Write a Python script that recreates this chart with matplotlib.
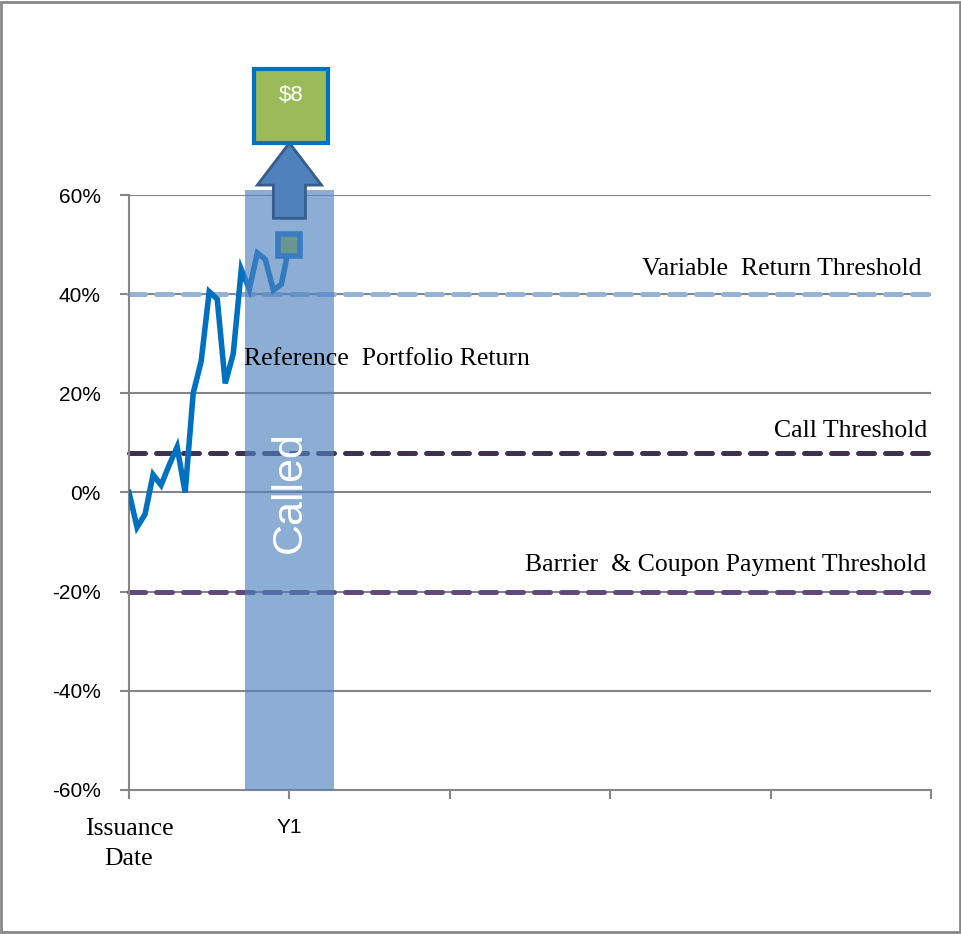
import matplotlib.pyplot as plt
from matplotlib.patches import Rectangle, FancyArrow

# data
years = [0.00, 0.05, 0.10, 0.15, 0.20, 0.25, 0.30, 0.35, 0.40, 0.45, 0.50,
         0.55, 0.60, 0.65, 0.70, 0.75, 0.80, 0.85, 0.90, 0.95, 1.00]
portfolio_return = [0.0, -7.0, -4.4, 3.6, 1.5, 5.5, 9.2, 0.0, 20.0, 26.5, 40.5,
                    39.0, 22.0, 28.0, 45.0, 41.0, 48.3, 47.0, 40.8, 42.0, 50.0]

thresholds = {
    "Variable  Return Threshold": 40,
    "Call Threshold": 8,
    "Barrier  & Coupon Payment Threshold": -20,
}
threshold_colors = ["#95b3d7", "#403152", "#604a7b"]
threshold_label_x = [4.94, 4.975, 4.97]
threshold_label_y = [45, 12.5, -14.7]

x_ticks = [0, 1, 2, 3, 4, 5]
x_labels = ["Issuance\nDate", "Y1", "", "", "", ""]
y_ticks = [-60, -40, -20, 0, 20, 40, 60]

called_year = 1
called_value = 50
payout = "$8"

serif = "Liberation Serif"
sans = "Liberation Sans"
grid_gray = "#868686"

fig = plt.figure(figsize=(9.62, 9.34), dpi=100)
fig.patches.append(Rectangle((0.001, 0.002), 0.997, 0.996, transform=fig.transFigure,
                             fill=False, ec="#888888", lw=2))
ax = fig.add_axes([0.1341, 0.1542, 0.8337, 0.637])
ax.set_xlim(0, 5)
ax.set_ylim(-60, 60)

for y in y_ticks[1:]:
    ax.axhline(y, color=grid_gray, lw=1.5, zorder=1)

for (label, val), col, lx, ly in zip(thresholds.items(), threshold_colors,
                                     threshold_label_x, threshold_label_y):
    ax.plot([0, 5], [val, val], color=col, lw=3.6, dashes=(3.2, 2.2),
            dash_capstyle="round", zorder=2, clip_on=False)
    ax.text(lx, ly, label, ha="right", va="center", fontsize=18.5,
            family=serif, color="black")

ax.plot(years, portfolio_return, color="#0070c0", lw=4, zorder=3,
        solid_joinstyle="miter")
ax.text(0.72, 26.9, "Reference  Portfolio Return", ha="left", va="center",
        fontsize=18.5, family=serif, zorder=6)

# called bar
ax.bar(called_year, 121, bottom=-60, width=0.55, color="#4f81bd", alpha=0.65,
       zorder=4, clip_on=False)
ax.text(called_year, 0, "Called", rotation=90, ha="center", va="center",
        color="white", fontsize=31, family=sans, zorder=6)

# call marker, arrow and payout box
ax.plot([called_year], [called_value], marker="s", ms=16.5, mfc="#6a9690",
        mec="#3a7cc4", mew=4, zorder=7, clip_on=False)
ax.add_patch(FancyArrow(called_year, called_value + 5.3, 0, 15.2, width=0.2,
                        head_width=0.4, head_length=8.5, length_includes_head=True,
                        fc="#4f81bd", ec="#385d8a", lw=2, zorder=6, clip_on=False))
ax.add_patch(Rectangle((called_year - 0.22, 70.5), 0.46, 15, fc="#9bbb59",
                       ec="#0070c0", lw=3, zorder=7, clip_on=False))
ax.text(called_year + 0.01, 80.0, payout, ha="center", va="center", color="white",
        fontsize=16, family=sans, zorder=8)

# axes styling
for s in ["top", "right"]:
    ax.spines[s].set_visible(False)
for s in ["left", "bottom"]:
    ax.spines[s].set_color(grid_gray)
    ax.spines[s].set_linewidth(1.5)

ax.set_yticks(y_ticks)
ax.set_yticklabels([f"{v}%" for v in y_ticks], family=sans, fontsize=15)
ax.set_xticks(x_ticks)
ax.set_xticklabels(x_labels, fontsize=15, family=sans)
ax.tick_params(axis="both", direction="out", length=6.5, width=1.5, color=grid_gray)
ax.tick_params(axis="y", pad=14)
ax.tick_params(axis="x", pad=14)
first = ax.get_xticklabels()[0]
first.set_family(serif)
first.set_fontsize(18.5)
first.set_linespacing(1.45)

fig.savefig("out.png", dpi=100)
